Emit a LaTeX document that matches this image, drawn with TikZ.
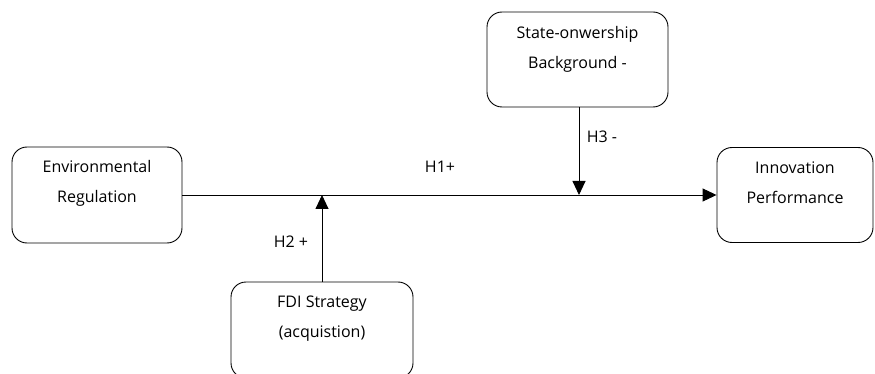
\documentclass[tikz,border=0pt]{standalone}
\usepackage{fontspec}
\setmainfont{Open Sans}
\usetikzlibrary{arrows.meta}
\begin{document}
\begin{tikzpicture}[x=1pt,y=-1pt,
  box/.style={draw, line width=0.9pt, rounded corners=15pt, inner sep=0pt},
  txt/.style={align=center, inner sep=0pt, font=\fontsize{16}{30}\selectfont},
  lbl/.style={inner sep=0pt, font=\fontsize{16}{18}\selectfont},
  conn/.style={line width=0.9pt, -{Triangle[length=14pt,width=13pt]}}]
\useasboundingbox (0,0) rectangle (875,374);
\clip (0,0) rectangle (875,374);
\node[box, minimum width=170pt, minimum height=96pt] (env) at (97,195) {};
\node[box, minimum width=181pt, minimum height=95pt] (state) at (577.5,59.5) {};
\node[box, minimum width=156pt, minimum height=95pt] (innov) at (795,195) {};
\node[box, minimum width=182pt, minimum height=96pt] (fdi) at (322,330) {};
\node[txt] (envt) at (97,183) {Environmental\\Regulation};
\node[txt] (statet) at (577.5,49) {State-onwership\\Background -};
\node[txt] (innovt) at (795,183) {Innovation\\Performance};
\node[txt] (fdit) at (322,319) {FDI Strategy\\(acquistion)};
\coordinate (j2) at (322,195);
\coordinate (j3) at (579,195);
\draw[conn] (env.east) -- (innov.west);
\draw[conn] (fdi.north) -- (j2);
\draw[conn] (state.south -| j3) -- (j3);
\node[lbl] (h1) at (440,167) {H1+};
\node[lbl] (h2) at (291,242) {H2 +};
\node[lbl] (h3) at (602,137) {H3 -};
\end{tikzpicture}
\end{document}
